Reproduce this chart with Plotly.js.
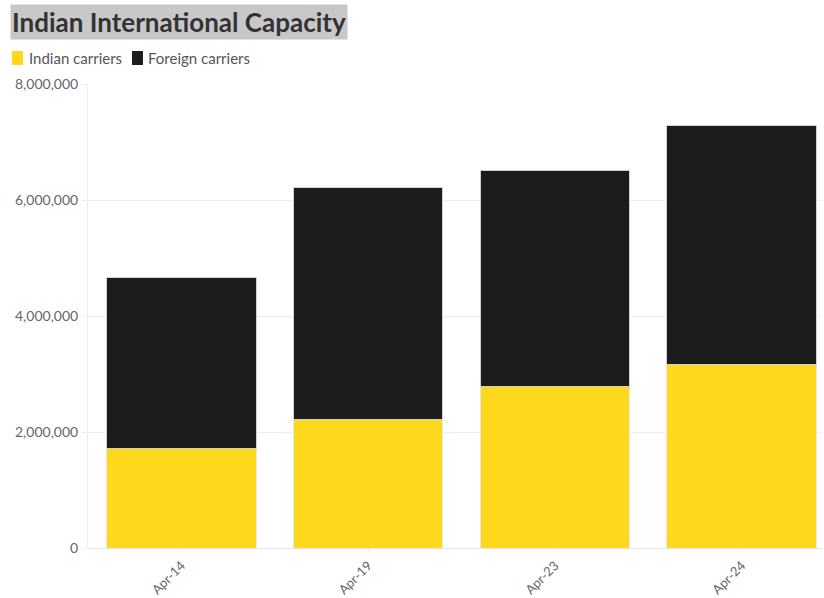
<!DOCTYPE html>
<html>
<head>
<meta charset="utf-8">
<script src="https://cdn.plot.ly/plotly-3.0.1.min.js"></script>
<style>html,body{margin:0;padding:0;background:#fff;}#chart{width:824px;height:598px;}</style>
</head>
<body>
<div id="chart"></div>
<script>
const categories = ["Apr-14", "Apr-19", "Apr-23", "Apr-24"];
const indianCarriers = [1707000, 2207000, 2793000, 3172000];
const foreignCarriers = [2965000, 4017000, 3724000, 4104000];
const seriesNames = ["Indian carriers", "Foreign carriers"];
const seriesColors = ["#FDD81C", "#1C1C1C"];
const yTicks = [0, 2000000, 4000000, 6000000, 8000000];

const FONT = "Lato, 'Noto Sans', sans-serif";

const traces = [
  {
    type: "bar", name: seriesNames[0], x: categories, y: indianCarriers,
    marker: {color: seriesColors[0], line: {color: "#e8e8e8", width: 1}},
    hoverinfo: "x+y+name"
  },
  {
    type: "bar", name: seriesNames[1], x: categories, y: foreignCarriers,
    marker: {color: seriesColors[1], line: {color: "#d0d0d0", width: 1}},
    hoverinfo: "x+y+name"
  }
];

// custom legend (swatches + labels) positioned above the plot
const legendShapes = [
  {x0: -76, x1: -65},
  {x0: 44, x1: 55}
].map((p, i) => ({
  type: "rect", xref: "paper", yref: "paper",
  xsizemode: "pixel", ysizemode: "pixel", xanchor: 0, yanchor: 1,
  x0: p.x0, x1: p.x1, y0: 33, y1: 19,
  fillcolor: seriesColors[i], line: {width: 0}, layer: "above"
}));
const legendLabels = [-0.0831, 0.0790].map((x, i) => ({
  text: seriesNames[i], xref: "paper", yref: "paper", x: x, y: 1.056,
  xanchor: "left", yanchor: "middle", showarrow: false,
  font: {family: FONT, size: 15, color: "#555"}
}));

const layout = {
  width: 824, height: 598,
  margin: {l: 88, r: 2, t: 84, b: 50},
  barmode: "stack",
  bargap: 0.2,
  paper_bgcolor: "#fff", plot_bgcolor: "#fff",
  font: {family: FONT, color: "#666", size: 13},
  showlegend: false,
  xaxis: {
    type: "category", range: [-0.5, 3.43],
    tickangle: -45, showgrid: false,
    ticks: "outside", ticklen: 4, tickcolor: "#eee",
    showline: false, zeroline: false,
    tickfont: {family: FONT, size: 13, color: "#666"},
    fixedrange: true
  },
  yaxis: {
    range: [0, 8000000], tickvals: yTicks, tickformat: ",",
    showgrid: true, gridcolor: "#ececec", gridwidth: 1,
    zeroline: true, zerolinecolor: "#e6e6e6",
    showline: true, linecolor: "#eeeeee",
    ticks: "outside", ticklen: 6, tickcolor: "#eee",
    tickfont: {family: FONT, size: 14, color: "#666"},
    fixedrange: true
  },
  shapes: legendShapes,
  annotations: [{
    text: "<b>Indian International Capacity</b>",
    xref: "paper", yref: "paper", x: -0.1063, y: 1.172, xanchor: "left", yanchor: "top",
    showarrow: false, bgcolor: "#C8C8C8", borderpad: 1,
    font: {family: FONT, size: 26, color: "#333"}
  }].concat(legendLabels)
};

Plotly.newPlot("chart", traces, layout, {displayModeBar: false});
</script>
</body>
</html>
